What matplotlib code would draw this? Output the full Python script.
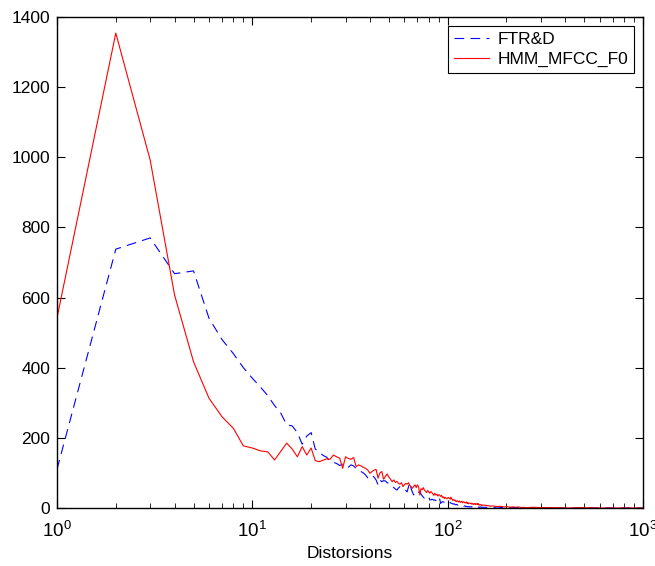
import matplotlib
matplotlib.use("Agg")
import matplotlib.pyplot as plt
from matplotlib.ticker import LogLocator, MultipleLocator, NullFormatter

plt.rcParams['font.family'] = ['Liberation Sans', 'DejaVu Sans']
plt.rcParams['mathtext.default'] = 'regular'
plt.rcParams['lines.scale_dashes'] = False

# x positions: every distortion count 1..150, then sparser tail
x_dense = list(range(1, 151))
x_tail = [155, 160, 165, 170, 175, 180, 185, 190, 195, 200,
          205, 210, 215, 220, 225, 230, 235, 240, 245, 250,
          275, 300, 350, 400, 500, 600, 700, 800, 900, 1000]
x = x_dense + x_tail

# FTR&D (blue dashed)
ftrd_dense = [110, 738, 770, 668, 676, 541, 480, 440, 400, 370,
              345, 320, 292, 270, 237, 234, 215, 182, 205, 215,
              168, 160, 150, 145, 133, 130, 127, 121, 125, 118,
              116, 123, 120, 112, 108, 104, 100, 94, 86, 85,
              92, 88, 80, 66, 80, 75, 78, 77, 72, 70,
              68, 62, 58, 54, 51, 57, 61, 58, 56, 52,
              50, 46, 60, 72, 55, 45, 37, 42, 44, 40,
              45, 46, 40, 35, 31, 28, 30, 34, 33, 32,
              23, 23, 25, 24, 22, 23, 21, 24, 28, 32,
              26, 13, 16, 18, 17, 17, 19, 16, 18, 18,
              18, 17, 15, 14, 13, 12, 11, 12, 10, 9,
              10, 9, 8, 9, 8, 7, 8, 6, 7, 6,
              5, 6, 5, 4, 5, 3.5, 4, 3, 4, 3,
              3, 4, 3, 3, 2, 3, 3, 2, 3, 3,
              2, 3, 2, 3, 2, 2, 3, 2, 2, 2]
ftrd_tail = [2, 2, 3, 2, 2, 3, 2, 1, 2, 1,
             2, 1, 1, 2, 1, 1, 1, 0, 1, 0,
             0, 0, 0, 0, 0, 0, 0, 0, 0, 0]
ftrd = ftrd_dense + ftrd_tail

# HMM_MFCC_F0 (red solid)
hmm_dense = [542, 1354, 992, 607, 417, 313, 260, 227, 177, 171,
             163, 160, 137, 162, 185, 168, 146, 175, 151, 171,
             135, 132, 136, 140, 139, 151, 146, 142, 113, 146,
             141, 139, 144, 118, 123, 120, 116, 113, 108, 99,
             104, 108, 110, 85, 100, 104, 82, 90, 97, 88,
             82, 75, 80, 73, 76, 70, 68, 72, 61, 66,
             70, 68, 72, 65, 60, 56, 62, 66, 58, 66,
             60, 37, 55, 52, 58, 51, 48, 44, 50, 46,
             42, 47, 44, 40, 36, 42, 37, 39, 34, 38,
             37, 33, 36, 30, 32, 27, 31, 28, 26, 29,
             30, 27, 25, 31, 26, 22, 24, 21, 23, 19,
             18, 21, 19, 17, 20, 16, 18, 19, 15, 17,
             18, 15, 16, 14, 17, 13, 15, 12, 13, 14,
             13, 11, 14, 12, 10, 12, 11, 13, 10, 11,
             12, 10, 13, 9, 10, 8, 9, 10, 7, 8]
hmm_tail = [8, 7, 5, 6, 5, 4, 5, 4, 3, 4,
            3, 2, 3, 2, 2, 3, 2, 1, 2, 1,
            2, 1, 1, 0, 1, 0, 0, 0, 0, 0]
hmm = hmm_dense + hmm_tail

fig = plt.figure(figsize=(6.55, 5.66), dpi=100)
ax = fig.add_axes([0.087, 0.1025, 0.8947, 0.8675])

ax.plot(x, ftrd, color='blue', linestyle='--', dashes=(7, 4.5), linewidth=0.8, label='FTR&D')
ax.plot(x, hmm, color='red', linestyle='-', linewidth=0.8, label='HMM_MFCC_F0')

ax.set_xscale('log')
ax.set_xlim(1, 1000)
ax.set_ylim(0, 1400)
ax.yaxis.set_major_locator(MultipleLocator(200))
ax.xaxis.set_major_locator(LogLocator(base=10, numticks=10))
ax.xaxis.set_minor_locator(LogLocator(base=10, subs=range(2, 10), numticks=10))
ax.xaxis.set_minor_formatter(NullFormatter())

ax.tick_params(which='both', direction='in', top=True, right=True, colors='black')
ax.tick_params(axis='y', labelsize=12.5, pad=5)
ax.tick_params(axis='x', which='major', labelsize=13.5, pad=9)
ax.tick_params(which='major', length=6, width=0.8)
ax.tick_params(which='minor', length=3.5, width=0.6)
for s in ax.spines.values():
    s.set_linewidth(1.0)

ax.set_xlabel('Distorsions', fontsize=12.5, labelpad=4)

leg = ax.legend(loc='upper right', fontsize=12.5, fancybox=False, framealpha=1,
                edgecolor='black', handlelength=2.0, handletextpad=0.5,
                borderaxespad=0.5, borderpad=0.35, labelspacing=0.3)
leg.get_frame().set_linewidth(0.8)

fig.savefig('out.png', dpi=100)
